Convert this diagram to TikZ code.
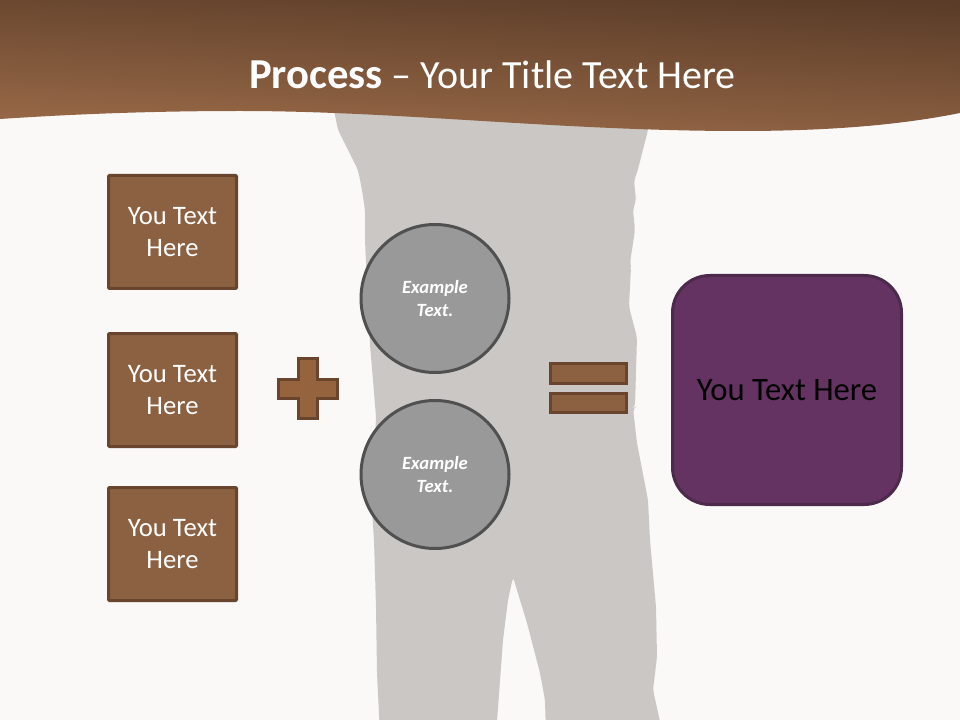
\documentclass[tikz,border=0pt]{standalone}
\usepackage{fontspec}
\setmainfont{Carlito}
\usepackage{xcolor}
\definecolor{paper}{HTML}{FBF9F8}
\definecolor{figure}{HTML}{CAC7C4}
\definecolor{bandDark}{HTML}{5A3C28}
\definecolor{bandLight}{HTML}{9A6A48}
\definecolor{boxFill}{HTML}{8C6142}
\definecolor{boxLine}{HTML}{6A452E}
\definecolor{circFill}{HTML}{999999}
\definecolor{circLine}{HTML}{505050}
\definecolor{purpFill}{HTML}{643362}
\definecolor{purpLine}{HTML}{4B2A4C}
\tikzset{
	textbox/.style={rectangle,draw=boxLine,fill=boxFill,line width=2.25pt,rounded corners=0.8pt,minimum width=96pt,minimum height=84.75pt,inner sep=0pt,outer sep=0pt,align=center,text=white,font=\fontsize{20}{24}\selectfont},
	example/.style={circle,draw=circLine,fill=circFill,line width=2.25pt,minimum size=111pt,inner sep=0pt,outer sep=0pt,align=center,text=white,font=\fontsize{14}{17.25}\selectfont\bfseries\itshape},
	equalbar/.style={rectangle,draw=boxLine,fill=boxFill,line width=2.25pt,minimum width=57pt,minimum height=14.5pt,inner sep=0pt,outer sep=0pt}
}
\begin{document}
\begin{tikzpicture}[x=0.75pt,y=-0.75pt]
	\useasboundingbox (0,0) rectangle (960,720);
	\fill[paper] (0,0) rectangle (960,720);

	\fill[figure,rounded corners=3pt] (333,105) -- (338,130) -- (348,150) -- (358,170) -- (362,190) -- (365,210) -- (365,240) -- (366,262) -- (368,300) -- (370,345) -- (373,380) -- (376,417) -- (375,440) -- (372,510) -- (374,540) -- (376,607) -- (377,673) -- (380,735)
		-- (496,735) -- (503,640) -- (508,600) -- (513,577) -- (527,623) -- (540,673) -- (545,700) -- (546,735)
		-- (663,735) -- (653,690) -- (657,657) -- (656,607) -- (650,540) -- (648,500) -- (637,443) -- (633,408) -- (635,407) -- (637,337) -- (629,307) -- (631,267) -- (630,263) -- (635,230) -- (633,210) -- (636,200) -- (634,180) -- (637,173) -- (648,130) -- (650,105) -- cycle;

	\shade[top color=bandDark,bottom color=bandLight,shading angle=-3] (0,0) -- (960,0) -- (960,113) .. controls (900,125) and (830,131) .. (740,131) .. controls (560,131) and (400,111) .. (240,111) .. controls (170,111) and (90,113) .. (0,119) -- cycle;
	\node (title) at (492.5,75) [text=white,inner sep=0pt,font=\fontsize{30}{34}\selectfont] {{\fontsize{32}{34}\selectfont\bfseries Process} – Your Title Text Here};

	\node (box1) at (172.5,232) [textbox] {You Text\\Here};
	\node (box2) at (172.5,390) [textbox] {You Text\\Here};
	\node (box3) at (172.5,544) [textbox] {You Text\\Here};

	\filldraw[draw=boxLine,fill=boxFill!92!orange,line width=2.25pt] (298.5,358.5) -- (317.5,358.5) -- (317.5,379.5) -- (337.5,379.5) -- (337.5,398.5) -- (317.5,398.5) -- (317.5,418.5) -- (298.5,418.5) -- (298.5,398.5) -- (278.5,398.5) -- (278.5,379.5) -- (298.5,379.5) -- cycle;

	\node (circ1) at (435,298.5) [example] {Example\\Text.};
	\node (circ2) at (435,474.5) [example] {Example\\Text.};

	\node (bar1) at (588.5,373.5) [equalbar] {};
	\node (bar2) at (588.5,403) [equalbar] {};

	\node (result) at (787,390) [rectangle,draw=purpLine,fill=purpFill,line width=2.25pt,rounded corners=28pt,minimum size=171.75pt,inner sep=0pt,outer sep=0pt,text=black,font=\fontsize{24.5}{28}\selectfont] {You Text Here};
\end{tikzpicture}
\end{document}
